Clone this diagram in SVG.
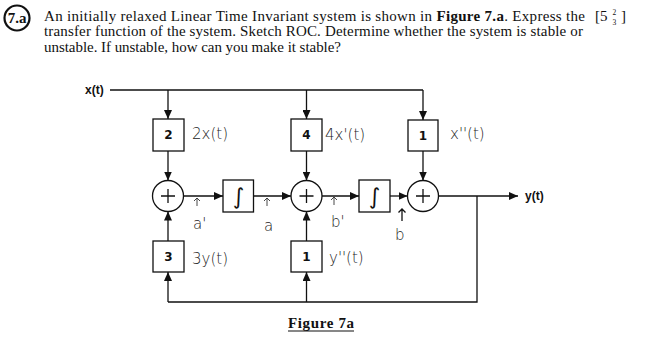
<svg xmlns="http://www.w3.org/2000/svg" width="652" height="337" viewBox="0 0 652 337">
<defs>
<style>
.t{font-family:"Liberation Serif","Times New Roman",serif;font-size:15px;fill:#111}
.b{font-weight:bold}
.fr{font-size:7.5px}
.box{fill:#fff;stroke:#111;stroke-width:1.3}
.num{font-family:"DejaVu Sans","Liberation Sans",sans-serif;font-size:12px;font-weight:bold;fill:#111;text-anchor:middle;dominant-baseline:central}
.sig{font-family:"Liberation Sans",Arial,sans-serif;font-size:12px;font-weight:bold;fill:#111;dominant-baseline:central}
.hw{font-family:"DejaVu Sans",sans-serif;font-weight:200;font-size:15px;fill:#222}
.int{font-family:"DejaVu Sans",sans-serif;font-size:22px;text-anchor:middle;fill:#111}
.ln{fill:none;stroke:#111;stroke-width:1.3}
.thin{fill:none;stroke:#333;stroke-width:0.9}
</style>
<marker id="ah" markerUnits="userSpaceOnUse" markerWidth="9" markerHeight="8" refX="9" refY="4" orient="auto">
<path d="M0,0 L9,4 L0,8 z" fill="#111"/>
</marker>
</defs>
<rect width="652" height="337" fill="#fff"/>

<g id="title">
<circle cx="17" cy="18" r="12.5" fill="none" stroke="#111" stroke-width="2.2"/>
<text x="17" y="22.5" class="t b" font-size="13" text-anchor="middle">7.a</text>
<text x="44" y="20.5" class="t" textLength="541" lengthAdjust="spacing">An initially relaxed Linear Time Invariant system is shown in <tspan class="b">Figure 7.a</tspan>. Express the</text>
<text x="44" y="36" class="t" textLength="539" lengthAdjust="spacing">transfer function of the system. Sketch ROC. Determine whether the system is stable or</text>
<text x="44" y="51.5" class="t" textLength="297" lengthAdjust="spacing">unstable. If unstable, how can you make it stable?</text>
<text x="595" y="21" class="t">[5<tspan class="fr" x="612.5" y="15">2</tspan><tspan class="fr" x="612.5" y="24.5">3</tspan><tspan x="621" y="21">]</tspan></text>
</g>

<g id="connectors">
<path class="ln" d="M110,90 H423"/>
<path class="ln" d="M168,90 V119" marker-end="url(#ah)"/>
<path class="ln" d="M306.5,90 V119" marker-end="url(#ah)"/>
<path class="ln" d="M423,90 V120" marker-end="url(#ah)"/>
<path class="ln" d="M168,151 V180.5" marker-end="url(#ah)"/>
<path class="ln" d="M306.5,151 V180.5" marker-end="url(#ah)"/>
<path class="ln" d="M423,151 V180.5" marker-end="url(#ah)"/>
<path class="ln" d="M183.5,196 H223" marker-end="url(#ah)"/>
<path class="ln" d="M253.5,196 H291" marker-end="url(#ah)"/>
<path class="ln" d="M322,196 H359" marker-end="url(#ah)"/>
<path class="ln" d="M390,196 H407.5" marker-end="url(#ah)"/>
<path class="ln" d="M438.5,196 H518" marker-end="url(#ah)"/>
<path class="ln" d="M477,196 V302 H168"/>
<path class="ln" d="M168,302 V272" marker-end="url(#ah)"/>
<path class="ln" d="M306.5,302 V272" marker-end="url(#ah)"/>
<path class="ln" d="M168,241 V211.5" marker-end="url(#ah)"/>
<path class="ln" d="M306.5,241 V211.5" marker-end="url(#ah)"/>
</g>

<g id="in"><text x="85" y="90" class="sig">x(t)</text></g>
<g id="out"><text x="525" y="196" class="sig">y(t)</text></g>

<g id="g2"><rect class="box" x="153" y="119" width="31" height="32"/><text x="168.5" y="135" class="num">2</text></g>
<g id="g4"><rect class="box" x="291" y="119" width="31" height="32"/><text x="306.5" y="135" class="num">4</text></g>
<g id="g1t"><rect class="box" x="408" y="120" width="30" height="31"/><text x="423" y="135.5" class="num">1</text></g>
<g id="g3"><rect class="box" x="153" y="241" width="31" height="31"/><text x="168.5" y="256.5" class="num">3</text></g>
<g id="g1b"><rect class="box" x="291" y="241" width="31" height="31"/><text x="306.5" y="256.5" class="num">1</text></g>

<g id="s1"><circle class="box" cx="168" cy="196" r="15.5"/><path class="ln" stroke-width="2.2" d="M161,196 H175 M168,189 V203"/></g>
<g id="s2"><circle class="box" cx="306.5" cy="196" r="15.5"/><path class="ln" stroke-width="2.2" d="M299.5,196 H313.5 M306.5,189 V203"/></g>
<g id="s3"><circle class="box" cx="423" cy="196" r="15.5"/><path class="ln" stroke-width="2.2" d="M416,196 H430 M423,189 V203"/></g>

<g id="i1"><rect class="box" x="223" y="180" width="30.5" height="32"/><text x="238.5" y="204" class="int">∫</text></g>
<g id="i2"><rect class="box" x="359" y="180" width="31" height="32"/><text x="374.5" y="204" class="int">∫</text></g>

<g id="labels">
<text x="192" y="139" class="hw">2x(t)</text>
<text x="325" y="140" class="hw">4x'(t)</text>
<text x="450" y="139" class="hw">x''(t)</text>
<text x="192" y="264" class="hw">3y(t)</text>
<text x="329" y="263" class="hw">y''(t)</text>
<path class="thin" d="M197,206 V198 M194,201 L197,198 L200,201"/>
<text x="193" y="229" class="hw" font-size="16">a'</text>
<path class="thin" d="M267,206 V198 M264,201 L267,198 L270,201"/>
<text x="264" y="231" class="hw" font-size="17">a</text>
<path class="thin" d="M334,205 V197 M331,200 L334,197 L337,200"/>
<text x="331" y="227" class="hw" font-size="16">b'</text>
<path class="ln" stroke-width="1.6" d="M402,221 V209 M398.5,212.5 L402,209 L405.5,212.5"/>
<text x="395" y="240" class="hw" font-size="16">b</text>
</g>

<g id="caption">
<text x="288" y="328" class="t b" font-size="15" textLength="66" lengthAdjust="spacing">Figure 7a</text>
<path d="M288,331 H354" stroke="#111" stroke-width="1.2"/>
</g>
</svg>
